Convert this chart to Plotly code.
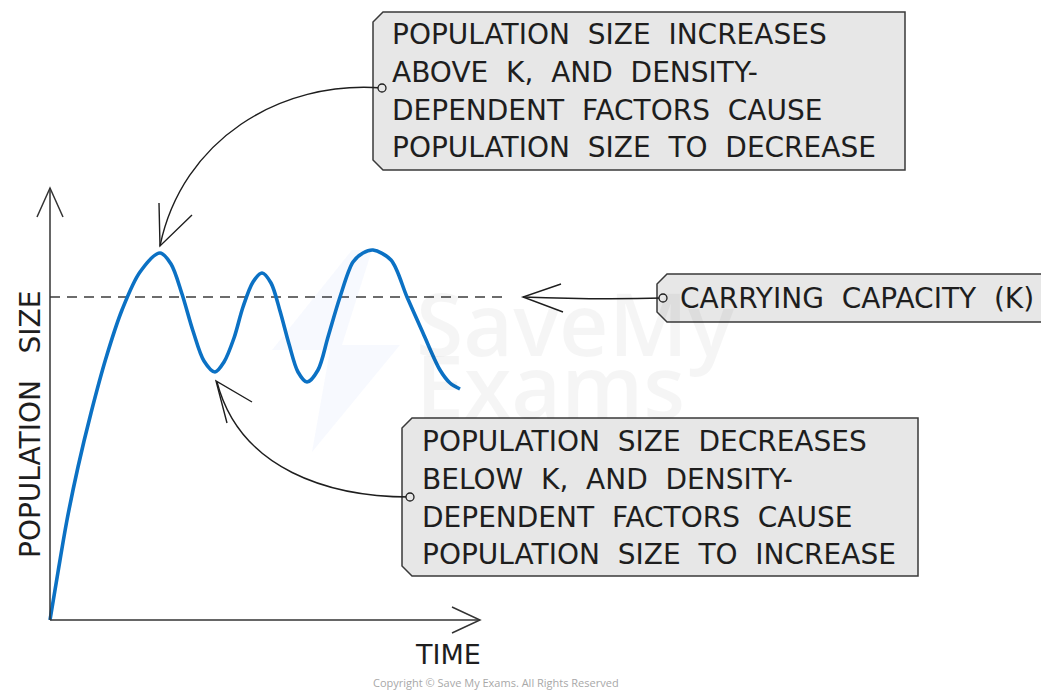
import plotly.graph_objects as go

# ---- data (time, population) ----
time = [0, 8, 17, 28, 41, 56, 72, 90, 110, 121, 132, 143, 154, 165, 174, 184, 193, 203,
        212, 221, 230, 239, 248, 257, 268, 278, 290, 303, 313, 323, 341, 357, 373, 390,
        400, 410]
population = [0, 48, 100, 153, 207, 262, 310, 348, 367, 356, 326, 289, 259, 248, 258, 282,
              313, 338, 347, 337, 309, 276, 248, 238, 250, 283, 323, 358, 367, 370, 360,
              323, 287, 250, 237, 231]
K = 323
K_end = 455

box1_lines = ["POPULATION SIZE INCREASES", "ABOVE K, AND DENSITY-",
              "DEPENDENT FACTORS CAUSE", "POPULATION SIZE TO DECREASE"]
box2_lines = ["CARRYING CAPACITY (K)"]
box3_lines = ["POPULATION SIZE DECREASES", "BELOW K, AND DENSITY-",
              "DEPENDENT FACTORS CAUSE", "POPULATION SIZE TO INCREASE"]
x_label = "TIME"
y_label = "POPULATION SIZE"
copyright_text = "Copyright \u00a9 Save My Exams. All Rights Reserved"

# ---- layout helpers (page pixel -> data) ----
OX, OY = 50, 620
PAGE_OFF = 8  # default body margin of the html page
def X(px):
    return px - OX
def Y(py):
    return OY - py

def wide(t, n=1):
    return t.replace(" ", " " + "\u00a0" * n)

FONT = "DejaVu Sans"
FS = 28
INK = "#1e1e1e"
BOX_FILL = "#e7e7e7"
BOX_LINE = "#3a3a3a"

fig = go.Figure()

fig.add_trace(go.Scatter(x=time, y=population, mode="lines",
                         line=dict(color="#0b71c4", width=3.6, shape="spline", smoothing=0.9),
                         hoverinfo="skip", showlegend=False))

shapes = []
annotations = []

# carrying capacity dashed line
shapes.append(dict(type="line", xref="x", yref="y", x0=0, x1=K_end, y0=K, y1=K,
                   line=dict(color="#3c3c3c", width=1.5, dash="10px,7px"), layer="below"))

def path(points, close=False):
    s = "M " + " L ".join(f"{X(px)},{Y(py)}" for px, py in points)
    return s + (" Z" if close else "")

def line_path(d, width=1.4, color=INK):
    shapes.append(dict(type="path", xref="x", yref="y", path=d,
                       line=dict(color=color, width=width)))

# axes
line_path(path([(50, 620), (50, 188)]), 1.5, "#333")
line_path(path([(50, 620), (480, 620)]), 1.5, "#333")
line_path(path([(37, 217), (50, 188), (63, 217)]), 1.5, "#333")
line_path(path([(452, 607), (480, 620), (452, 633)]), 1.5, "#333")

# watermark
shapes.append(dict(type="path", xref="x", yref="y",
                   path=path([(352, 250), (272, 350), (330, 350), (312, 452), (400, 345),
                              (342, 345), (372, 250)], close=True),
                   fillcolor="rgba(60,100,220,0.04)", line=dict(width=0), layer="below"))
for txt, cy in [("SaveMy", 322), ("Exams", 384)]:
    annotations.append(dict(x=X(414), y=Y(cy), xref="x", yref="y", text=txt,
                            showarrow=False, xanchor="left", yanchor="middle",
                            font=dict(family="Open Sans", size=86, weight=600,
                                      color="rgba(0,0,0,0.04)")))

def box(left, right, top, bottom, ch=10):
    pts = [(left + ch, top), (right, top), (right, bottom), (left + ch, bottom),
           (left, bottom - ch), (left, top + ch)]
    shapes.append(dict(type="path", xref="x", yref="y", path=path(pts, close=True),
                       fillcolor=BOX_FILL, line=dict(color=BOX_LINE, width=1.5)))

def circle(cx, cy, r=4):
    shapes.append(dict(type="circle", xref="x", yref="y", x0=X(cx - r), x1=X(cx + r),
                       y0=Y(cy + r), y1=Y(cy - r), fillcolor=BOX_FILL,
                       line=dict(color=INK, width=1.3)))

def text_lines(lines, left, centers, size=FS):
    for t, cy in zip(lines, centers):
        annotations.append(dict(x=X(left), y=Y(cy), xref="x", yref="y", text=wide(t),
                                showarrow=False, xanchor="left", yanchor="middle",
                                font=dict(family=FONT, size=size, color=INK)))

# box 1
box(373, 905, 12, 170)
text_lines(box1_lines, 390, [34, 72, 110, 147])
# box 2
box(657, 1060, 274, 322)
text_lines(box2_lines, 678, [298])
# box 3
box(402, 918, 418, 576)
text_lines(box3_lines, 420, [441, 479, 517, 554])

# arrows
line_path(f"M {X(382)},{Y(88)} C {X(280)},{Y(80)} {X(182)},{Y(140)} {X(160)},{Y(246)}")
line_path(path([(159, 203), (160, 246), (192, 215)]))
line_path(f"M {X(663)},{Y(298)} Q {X(600)},{Y(300)} {X(523)},{Y(297)}")
line_path(path([(561, 284), (523, 297), (563, 312)]))
line_path(f"M {X(410)},{Y(497)} C {X(330)},{Y(497)} {X(240)},{Y(470)} {X(217)},{Y(382)}")
line_path(path([(252, 402), (216, 381), (227, 423)]))

circle(382, 88)
circle(663, 298)
circle(410, 497)

# axis labels
annotations.append(dict(x=X(30), y=Y(425), xref="x", yref="y", text=wide(y_label, 2),
                        textangle=-90, showarrow=False, xanchor="center", yanchor="middle",
                        font=dict(family=FONT, size=FS, color=INK)))
annotations.append(dict(x=X(448), y=Y(654), xref="x", yref="y", text=x_label,
                        showarrow=False, xanchor="center", yanchor="middle",
                        font=dict(family=FONT, size=27, color=INK)))
annotations.append(dict(x=X(496), y=Y(682), xref="x", yref="y", text=copyright_text,
                        showarrow=False, xanchor="center", yanchor="middle",
                        font=dict(family="Open Sans", size=11, color="#a8a8a8")))

W, H = 1049, 692
fig.update_layout(
    width=W - PAGE_OFF, height=H - PAGE_OFF,
    margin=dict(l=0, r=0, t=0, b=0, pad=0),
    paper_bgcolor="white", plot_bgcolor="white",
    xaxis=dict(range=[X(PAGE_OFF), X(W)], visible=False, fixedrange=True),
    yaxis=dict(range=[Y(H), Y(PAGE_OFF)], visible=False, fixedrange=True),
    shapes=shapes, annotations=annotations, showlegend=False,
)

fig.write_html("out.html", config={"displayModeBar": False})
